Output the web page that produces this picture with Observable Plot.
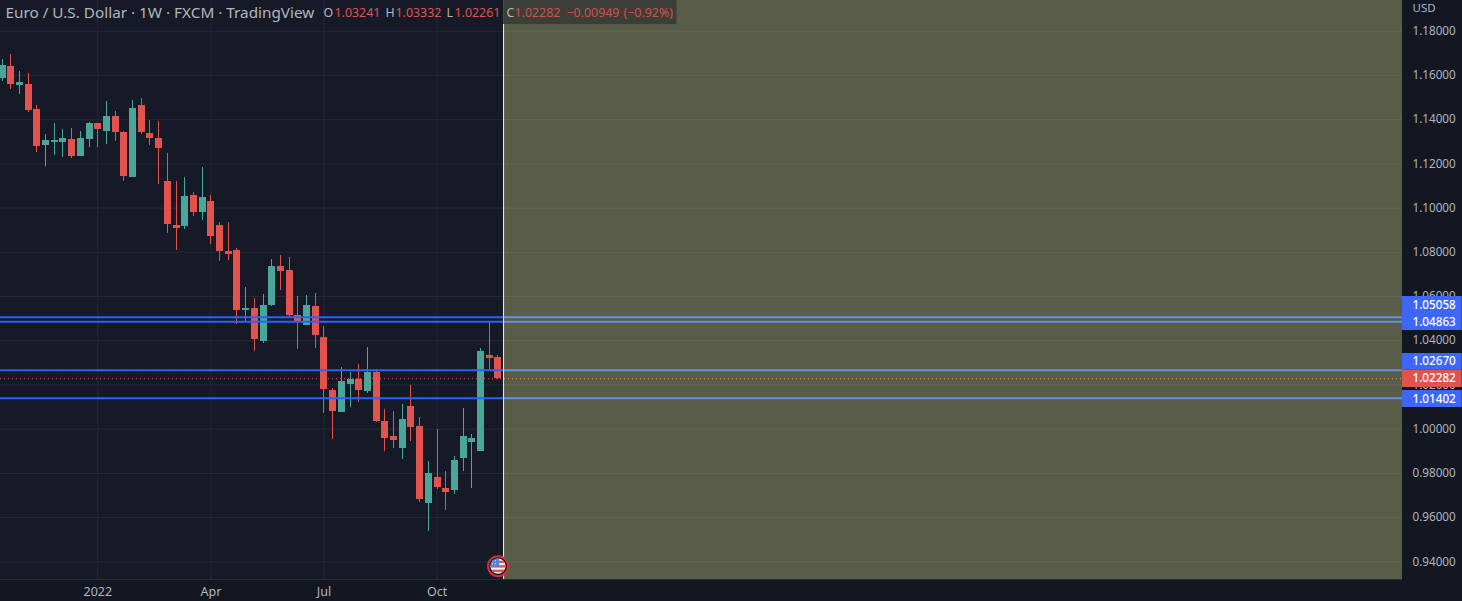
<!DOCTYPE html>
<html>
<head>
<meta charset="utf-8">
<script src="https://cdn.jsdelivr.net/npm/d3@7"></script>
<script src="https://cdn.jsdelivr.net/npm/@observablehq/plot@0.6"></script>
<style>
html,body{margin:0;padding:0;background:#131722;overflow:hidden}
svg{display:block}
</style>
</head>
<body>
<div id="chart"></div>
<script>
const firstWeek = new Date(Date.UTC(2021, 9, 18));
const opens = [1.1586,1.1640,1.1554,1.1559,1.1446,1.1283,1.1297,1.1297,1.1310,1.1233,1.1310,1.1383,1.1346,1.1414,1.1342,1.1138,1.1464,1.1337,1.1315,1.1120,1.0921,1.0916,1.1056,1.0980,1.1029,1.0921,1.0803,1.0808,1.0536,1.0545,1.0396,1.0559,1.0735,1.0717,1.0514,1.0468,1.0554,1.0415,1.0175,1.0075,1.0202,1.0225,1.0170,1.0256,1.0035,0.9967,0.9912,1.0102,1.0012,0.9664,0.9781,0.9731,0.9722,0.9867,0.9940,0.9899,1.0333,1.03241];
const highs = [1.1672,1.1695,1.1618,1.1609,1.1464,1.1333,1.1383,1.1355,1.1360,1.1346,1.1387,1.1383,1.1482,1.1437,1.1346,1.1487,1.1496,1.1396,1.1392,1.1247,1.1120,1.1138,1.1070,1.1183,1.1056,1.0934,1.0934,1.0817,1.0640,1.0590,1.0609,1.0767,1.0785,1.0776,1.0600,1.0604,1.0613,1.0464,1.0184,1.0279,1.0256,1.0292,1.0369,1.0270,1.0089,1.0080,1.0112,1.0197,1.0053,0.9854,0.9998,0.9808,0.9876,1.0093,0.9976,1.0365,1.0482,1.03332];
const lows = [1.1573,1.1536,1.1514,1.1432,1.1251,1.1188,1.1238,1.1229,1.1224,1.1233,1.1274,1.1274,1.1288,1.1301,1.1120,1.1138,1.1333,1.1283,1.1107,1.0885,1.0808,1.0903,1.0961,1.0943,1.0835,1.0758,1.0762,1.0473,1.0482,1.0351,1.0387,1.0554,1.0627,1.0505,1.0360,1.0468,1.0364,1.0071,0.9953,1.0075,1.0098,1.0121,1.0161,1.0030,0.9899,0.9912,0.9863,0.9944,0.9668,0.9537,0.9727,0.9632,0.9704,0.9808,0.9731,0.9899,1.0270,1.02261];
const closes = [1.1645,1.1559,1.1568,1.1441,1.1278,1.1306,1.1306,1.1315,1.1233,1.1315,1.1383,1.1355,1.1414,1.1342,1.1143,1.1450,1.1342,1.1315,1.1269,1.0925,1.0907,1.1052,1.0980,1.1047,1.0871,1.0803,1.0790,1.0536,1.0545,1.0405,1.0559,1.0735,1.0713,1.0514,1.0486,1.0559,1.0423,1.0179,1.0080,1.0216,1.0225,1.0175,1.0256,1.0035,0.9958,0.9949,1.0044,1.0007,0.9682,0.9799,0.9736,0.9713,0.9858,0.9967,0.9958,1.0351,1.0320,1.02282];

const priceTicks = [1.18,1.16,1.14,1.12,1.10,1.08,1.06,1.04,1.02,1.00,0.98,0.96,0.94];
const timeTicks = [new Date(Date.UTC(2022,0,3)),new Date(Date.UTC(2022,3,4)),new Date(Date.UTC(2022,6,4)),new Date(Date.UTC(2022,9,3))];
const timeLabels = ["2022","Apr","Jul","Oct"];

const levels = [1.05058,1.04863,1.02670,1.01402];
const lastClose = 1.02282;
const priceTags = [
  {text:"1.05058",top:1.06001,bottom:1.05232,fill:"#3f66fb"},
  {text:"1.04863",top:1.05232,bottom:1.04463,fill:"#3f66fb"},
  {text:"1.02670",top:1.03423,bottom:1.02677,fill:"#3f66fb"},
  {text:"1.01402",top:1.01749,bottom:1.00980,fill:"#3f66fb"},
  {text:"1.02282",top:1.02677,bottom:1.01885,fill:"#e0534e"}
];

const titleText = "Euro / U.S. Dollar · 1W · FXCM · TradingView";
const legendParts = [
  {t:"O",c:"#b2b5be",dx:323},{t:"1.03241",c:"#e0534e",dx:334},
  {t:"H",c:"#b2b5be",dx:385},{t:"1.03332",c:"#e0534e",dx:395},
  {t:"L",c:"#b2b5be",dx:446},{t:"1.02261",c:"#e0534e",dx:454},
  {t:"C",c:"#b2b5be",dx:506},{t:"1.02282",c:"#d0524d",dx:514},
  {t:"−0.00949",c:"#d0524d",dx:566},{t:"(−0.92%)",c:"#d0524d",dx:623}
];

const domainStart = new Date(Date.UTC(2021,9,16,17,6));
const domainEnd = new Date(Date.UTC(2024,10,17,18,30));
const stripEnd = new Date(Date.UTC(2025,0,4,19,30));
const rangeBoundary = new Date(Date.UTC(2022,10,25,12));
const legendBoxEnd = new Date(Date.UTC(2023,3,14));
const yTop = 1.19389, yBottom = 0.93200;
const legendBoxBottom = 1.18303;
const flagPrice = 0.93803;
const lastWeekIdx = opens.length - 1;

const candles = opens.map((o,i)=>({
  date:d3.utcDay.offset(firstWeek,7*i),open:o,high:highs[i],low:lows[i],close:closes[i],
  color:closes[i]>=o?"#4aa59a":"#e2534e"
}));

const flagSvg = `<svg xmlns="http://www.w3.org/2000/svg" width="24" height="24" viewBox="0 0 24 24">
<defs><clipPath id="c"><circle cx="12" cy="12" r="7.6"/></clipPath></defs>
<circle cx="12" cy="12" r="10" fill="#131722" stroke="#d5303a" stroke-width="2"/>
<g clip-path="url(#c)"><rect x="4" y="4" width="16" height="16" fill="#f4f4f4"/>
<rect x="4" y="6.5" width="16" height="2.4" fill="#e9504f"/><rect x="4" y="11" width="16" height="2.4" fill="#e9504f"/><rect x="4" y="15.5" width="16" height="2.4" fill="#e9504f"/>
<rect x="4" y="4" width="9" height="8.5" fill="#4a86e8"/>
<rect x="6" y="6" width="1" height="1" fill="#dfe9ff"/><rect x="9" y="6" width="1" height="1" fill="#dfe9ff"/><rect x="6" y="9" width="1" height="1" fill="#dfe9ff"/><rect x="9" y="9" width="1" height="1" fill="#dfe9ff"/></g></svg>`;

const FONT = "'Noto Sans', sans-serif";
const legendText = (d)=>Plot.text([d.t],{frameAnchor:"top-left",dx:d.dx,dy:13,lineAnchor:"middle",textAnchor:"start",fill:d.c,fontSize:12.4});

const chart = Plot.plot({
  width:1462,height:601,
  marginLeft:0,marginRight:60,marginTop:0,marginBottom:22,
  style:{background:"#131722",fontFamily:FONT,fontSize:"12px"},
  x:{type:"utc",domain:[domainStart,domainEnd]},
  y:{domain:[yBottom,yTop]},
  marks:[
    Plot.rect([0],{x1:domainStart,x2:domainEnd,y1:yBottom,y2:yTop,fill:"#161a26"}),
    Plot.ruleY(priceTicks,{stroke:"#262a36",strokeWidth:1}),
    Plot.ruleX(timeTicks,{stroke:"#262a36",strokeWidth:1}),
    Plot.ruleX(candles,{x:"date",y1:"low",y2:"high",stroke:"color",strokeWidth:1,shapeRendering:"crispEdges"}),
    Plot.ruleX(candles,{x:"date",y1:"open",y2:"close",stroke:"color",strokeWidth:7,shapeRendering:"crispEdges"}),
    Plot.ruleY(levels,{stroke:"#2962ff",strokeWidth:2}),
    Plot.ruleY([lastClose],{stroke:"#ef5350",strokeWidth:1,strokeDasharray:"1,3"}),
    Plot.rect([0],{x1:rangeBoundary,x2:domainEnd,y1:yBottom,y2:yTop,fill:"#fdff9b",fillOpacity:0.29}),
    Plot.ruleX([rangeBoundary],{stroke:"#fbfba8",strokeWidth:1}),
    Plot.ruleY([yBottom],{stroke:"#2a2e39",strokeWidth:1}),
    Plot.text([titleText],{frameAnchor:"top-left",dx:5,dy:13,lineAnchor:"middle",textAnchor:"start",fill:"#b2b5be",fontSize:15.3}),
    Plot.rect([0],{x1:rangeBoundary,x2:legendBoxEnd,y1:legendBoxBottom,y2:yTop,fill:"#3b3f38"}),
    ...legendParts.map(legendText),
    Plot.axisY({ticks:priceTicks,anchor:"right",tickSize:0,tickPadding:10,tickFormat:d3.format(".5f"),label:null,fill:"#b2b5be",fontSize:11.7}),
    Plot.axisX({ticks:timeTicks,anchor:"bottom",tickSize:0,tickPadding:8,tickFormat:(d)=>timeLabels[timeTicks.findIndex(t=>+t===+d)],label:null,fill:"#b2b5be",fontSize:12.5}),
    Plot.text(["USD"],{frameAnchor:"top-right",dx:10,dy:8,lineAnchor:"middle",textAnchor:"start",fill:"#aab4cc",fontSize:11.5}),
    Plot.rect(priceTags,{x1:domainEnd,x2:stripEnd,y1:"top",y2:"bottom",fill:"fill"}),
    Plot.text(priceTags,{x:domainEnd,y:d=>(d.top+d.bottom)/2,text:"text",dx:10,textAnchor:"start",fill:"#ffffff",fontSize:11.7,fontWeight:500}),
    Plot.image([candles[lastWeekIdx]],{x:"date",y:()=>flagPrice,src:()=>"data:image/svg+xml,"+encodeURIComponent(flagSvg),width:24,height:24})
  ]
});
document.getElementById("chart").appendChild(chart);
</script>
</body>
</html>
